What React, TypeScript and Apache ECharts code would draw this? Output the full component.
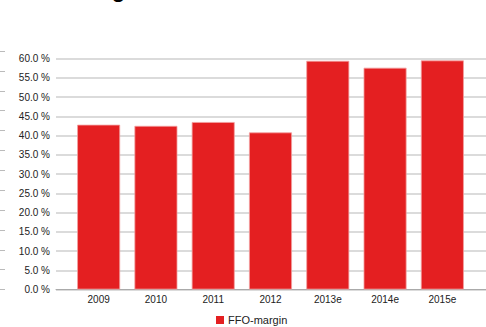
import React, { useEffect, useRef } from "react";
import * as echarts from "echarts";

const categories = ["2009", "2010", "2011", "2012", "2013e", "2014e", "2015e"];
const ffoMargin = [42.8, 42.5, 43.5, 40.8, 59.4, 57.6, 59.5];
const seriesName = "FFO-margin";
const titleText = "FFO-margin";
const yMin = 0;
const yMax = 60;
const yInterval = 5;

export default function App() {
  const ref = useRef<HTMLDivElement>(null);
  useEffect(() => {
    if (!ref.current) return;
    const chart = echarts.init(ref.current, null, { renderer: "svg" });
    const font = "Liberation Sans, Arial, sans-serif";
    chart.setOption({
      animation: false,
      backgroundColor: "#ffffff",
      textStyle: { fontFamily: font },
      graphic: [
        {
          type: "text",
          left: 20,
          top: -22,
          style: {
            text: titleText,
            font: "bold 22px Liberation Sans, Arial, sans-serif",
            fill: "#000",
          },
        },
      ],
      legend: {
        data: [seriesName],
        top: 314.5,
        left: 216,
        padding: 0,
        icon: "rect",
        itemWidth: 8,
        itemHeight: 8,
        itemGap: 6,
        itemStyle: { borderWidth: 0 },
        textStyle: { fontSize: 11, color: "#222", fontFamily: font, padding: [0, 0, 0, -1] },
      },
      grid: [
        { left: 56, right: 0, top: 58.5, bottom: 37.5 },
        { left: 70, right: 15, top: 58.5, bottom: 37.5 },
        { left: 5, width: 1, top: 51, bottom: 37.5 },
      ],
      xAxis: [
        {
          gridIndex: 0,
          type: "value",
          min: 0,
          max: 1,
          axisLine: { show: true, lineStyle: { color: "#aaa", width: 1 } },
          axisTick: { show: false },
          axisLabel: { show: false },
          splitLine: { show: false },
        },
        {
          gridIndex: 1,
          type: "category",
          data: categories,
          axisLine: { show: false },
          axisTick: { show: false },
          axisLabel: { color: "#222", fontSize: 10, margin: 5, fontFamily: font },
        },
        {
          gridIndex: 2,
          type: "value",
          show: false,
        },
      ],
      yAxis: [
        {
          gridIndex: 0,
          type: "value",
          min: yMin,
          max: yMax,
          interval: yInterval,
          axisLine: { show: false },
          axisTick: { show: false },
          axisLabel: {
            color: "#222",
            fontSize: 10,
            margin: 6,
            fontFamily: font,
            formatter: (v: number) => v.toFixed(1) + " %",
          },
          splitLine: { show: true, lineStyle: { color: "#cfcfcf", width: 1.5 } },
        },
        {
          gridIndex: 1,
          type: "value",
          min: yMin,
          max: yMax,
          interval: yInterval,
          show: false,
        },
        {
          gridIndex: 2,
          type: "value",
          min: 0,
          max: 12,
          interval: 1,
          axisLine: { show: false },
          axisTick: { show: true, length: 5, lineStyle: { color: "#bbb" } },
          axisLabel: { show: false },
          splitLine: { show: false },
        },
      ],
      series: [
        {
          name: seriesName,
          type: "bar",
          xAxisIndex: 1,
          yAxisIndex: 1,
          data: ffoMargin,
          barCategoryGap: "25%",
          itemStyle: {
            color: "#e41f21",
            borderColor: "#f2a0a0",
            borderWidth: 0.8,
          },
        },
      ],
    });
    return () => chart.dispose();
  }, []);
  return (
    <div
      ref={ref}
      style={{ position: "fixed", left: 0, top: 0, width: 486, height: 327 }}
    />
  );
}
